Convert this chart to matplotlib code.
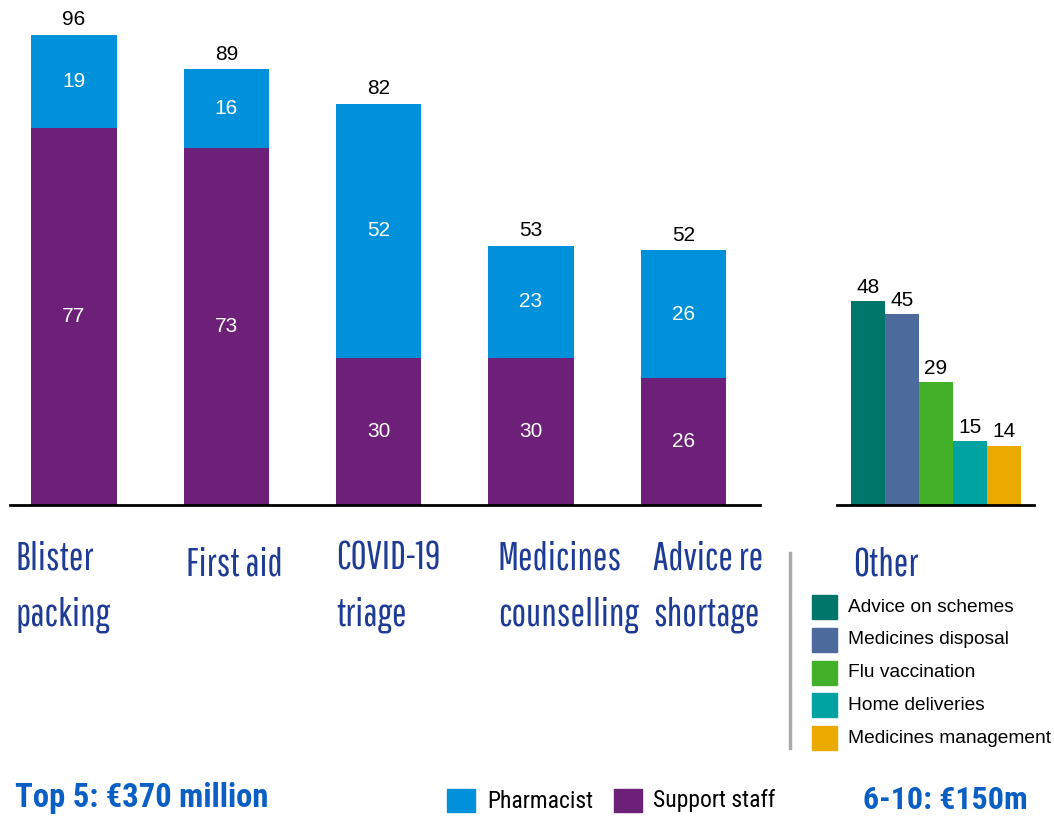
import numpy as np
import matplotlib.pyplot as plt
from matplotlib.patches import Rectangle
from matplotlib.lines import Line2D

categories = ['Blister\npacking', 'First aid', 'COVID-19\ntriage', 'Medicines\ncounselling', 'Advice re\nshortage']
pharmacist = [19, 16, 52, 23, 26]
support = [77, 73, 30, 30, 26]
totals = [96, 89, 82, 53, 52]

other_labels = ['Advice on schemes', 'Medicines disposal', 'Flu vaccination', 'Home deliveries', 'Medicines management']
other_values = [48, 45, 29, 15, 14]
other_colors = ['#00756A', '#4C6A9C', '#43B02A', '#00A3A1', '#EAAA00']

c_pharm = '#0091DA'
c_supp = '#6D2077'
c_title = '#1E3C96'
thin = ['Pathway Gothic One', 'DejaVu Sans']
narrow = ['Roboto Condensed', 'DejaVu Sans']
arial = ['Liberation Sans', 'DejaVu Sans']

W, H = 1054, 816
fig = plt.figure(figsize=(W / 100, H / 100), dpi=100)

def box(l, r, b, t):
    return [l / W, 1 - b / H, (r - l) / W, (b - t) / H]

# main stacked bars
ax = fig.add_axes(box(10, 760, 505, 505 - 489.6))
x = np.arange(len(categories))
ax.bar(x, support, width=0.56, color=c_supp)
ax.bar(x, pharmacist, width=0.56, bottom=support, color=c_pharm)
for i in x:
    ax.text(i, support[i] / 2, str(support[i]), ha='center', va='center', color='white', fontsize=15, family=arial)
    ax.text(i, support[i] + pharmacist[i] / 2, str(pharmacist[i]), ha='center', va='center', color='white', fontsize=15, family=arial)
    ax.annotate(str(totals[i]), (i, totals[i]), xytext=(0, 4), textcoords='offset points', ha='center', va='bottom', fontsize=15, family=arial)
ax.set_xlim(-0.42, 4.504)
ax.set_ylim(0, 100)
for s in ['top', 'right', 'left']:
    ax.spines[s].set_visible(False)
ax.spines['bottom'].set_linewidth(2)
ax.set_xticks([])
ax.set_yticks([])
ax.patch.set_alpha(0)

# other bars
ax2 = fig.add_axes(box(837, 1034, 505, 505 - 489.6))
x2 = np.arange(len(other_values))
ax2.bar(x2, other_values, width=1.0, color=other_colors)
for i in x2:
    ax2.annotate(str(other_values[i]), (i, other_values[i]), xytext=(0, 3), textcoords='offset points', ha='center', va='bottom', fontsize=15, family=arial)
ax2.set_xlim(-0.91, 4.88)
ax2.set_ylim(0, 489.6 / 4.25)
for s in ['top', 'right', 'left']:
    ax2.spines[s].set_visible(False)
ax2.spines['bottom'].set_linewidth(2)
ax2.set_xticks([])
ax2.set_yticks([])
ax2.patch.set_alpha(0)

# category labels
label_x = [15, 186, 336, 498, 653]
label_y = [540, 546, 540, 540, 540]
for lx, ly, lab in zip(label_x, label_y, categories):
    fig.text(lx / W, 1 - ly / H, lab, ha='left', va='top', fontsize=28, color=c_title,
             family=thin, linespacing=1.7)
fig.text(853 / W, 1 - 547 / H, 'Other', ha='left', va='top', fontsize=28, color=c_title, family=thin)

# divider line
fig.add_artist(Line2D([790 / W, 790 / W], [1 - 553 / H, 1 - 748 / H], color='#AAAAAA', lw=2.5))

# other legend
for k, (lab, col) in enumerate(zip(other_labels, other_colors)):
    yc = 607 + k * 32.8
    fig.add_artist(Rectangle((812 / W, 1 - (yc + 12) / H), 25 / W, 24 / H, color=col))
    fig.text(848 / W, 1 - yc / H, lab, ha='left', va='center', fontsize=13.8, family=arial)

# bottom row
fig.text(15 / W, 1 - 798 / H, 'Top 5: €370 million', ha='left', va='center', fontsize=23.5,
         fontweight='bold', color='#0A5FC4', family=narrow)
fig.text(1028 / W, 1 - 800 / H, '6-10: €150m', ha='right', va='center', fontsize=23,
         fontweight='bold', color='#0A5FC4', family=narrow)
fig.add_artist(Rectangle((447 / W, 1 - 812 / H), 28 / W, 23 / H, color=c_pharm))
fig.text(487 / W, 1 - 801 / H, 'Pharmacist', ha='left', va='center', fontsize=17, family=narrow)
fig.add_artist(Rectangle((614 / W, 1 - 812 / H), 28 / W, 23 / H, color=c_supp))
fig.text(653 / W, 1 - 801 / H, 'Support staff', ha='left', va='center', fontsize=17, family=narrow)

fig.savefig('out.png', dpi=100)
